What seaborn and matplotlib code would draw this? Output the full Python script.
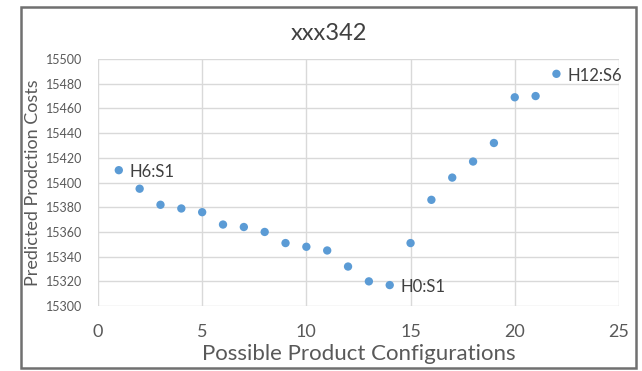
import matplotlib
matplotlib.use("Agg")
import matplotlib.pyplot as plt
import seaborn as sns
import pandas as pd
from matplotlib.patches import Rectangle

# values
configs = list(range(1, 23))
costs = [15410, 15395, 15382, 15379, 15376, 15366, 15364, 15360, 15351, 15348,
         15345, 15332, 15320, 15317, 15351, 15386, 15404, 15417, 15432, 15469,
         15470, 15488]
labelled_points = [(1, "H6:S1"), (14, "H0:S1"), (22, "H12:S6")]

df = pd.DataFrame({"config": configs, "cost": costs})

sns.set_style("white")
plt.rcParams["font.family"] = ["Lato", "DejaVu Sans"]

fig = plt.figure(figsize=(6.42, 3.71), dpi=100)
ax = fig.add_axes([0.1526, 0.175, 0.8115, 0.666])

sns.scatterplot(data=df, x="config", y="cost", ax=ax, color="#5B9BD5",
                s=36, edgecolor="none", zorder=3)

for cfg, lab in labelled_points:
    ax.annotate(lab, (cfg, costs[configs.index(cfg)]), xytext=(8, -5),
                textcoords="offset points", fontsize=12, color="#404040")

ax.set_xlim(0, 25)
ax.set_ylim(15300, 15500)
ax.set_xticks(range(0, 26, 5))
ax.set_yticks(range(15300, 15501, 20))
ax.grid(True, color="#d9d9d9", linewidth=1)
for s in ax.spines.values():
    s.set_visible(False)
ax.tick_params(axis="y", labelsize=9, colors="#595959", length=0, pad=11)
ax.tick_params(axis="x", labelsize=13, colors="#595959", length=0, pad=13)

# title sits centred on the whole chart frame, not the plot area
fig.text(328.5 / 642, 1 - 33 / 371, "xxx342", fontsize=17, color="#404040",
         ha="center", va="center")
ax.set_xlabel("Possible Product Configurations", fontsize=16, color="#595959", labelpad=3)
ax.set_ylabel("Predicted Prodction Costs", fontsize=13, color="#595959", labelpad=4)

# outer chart frame
fig.patches.append(Rectangle((21 / 642, 3 / 371), 615 / 642, 361 / 371,
                             transform=fig.transFigure, fill=False,
                             edgecolor="#707070", linewidth=1.8))

fig.savefig("out.png", dpi=100)
